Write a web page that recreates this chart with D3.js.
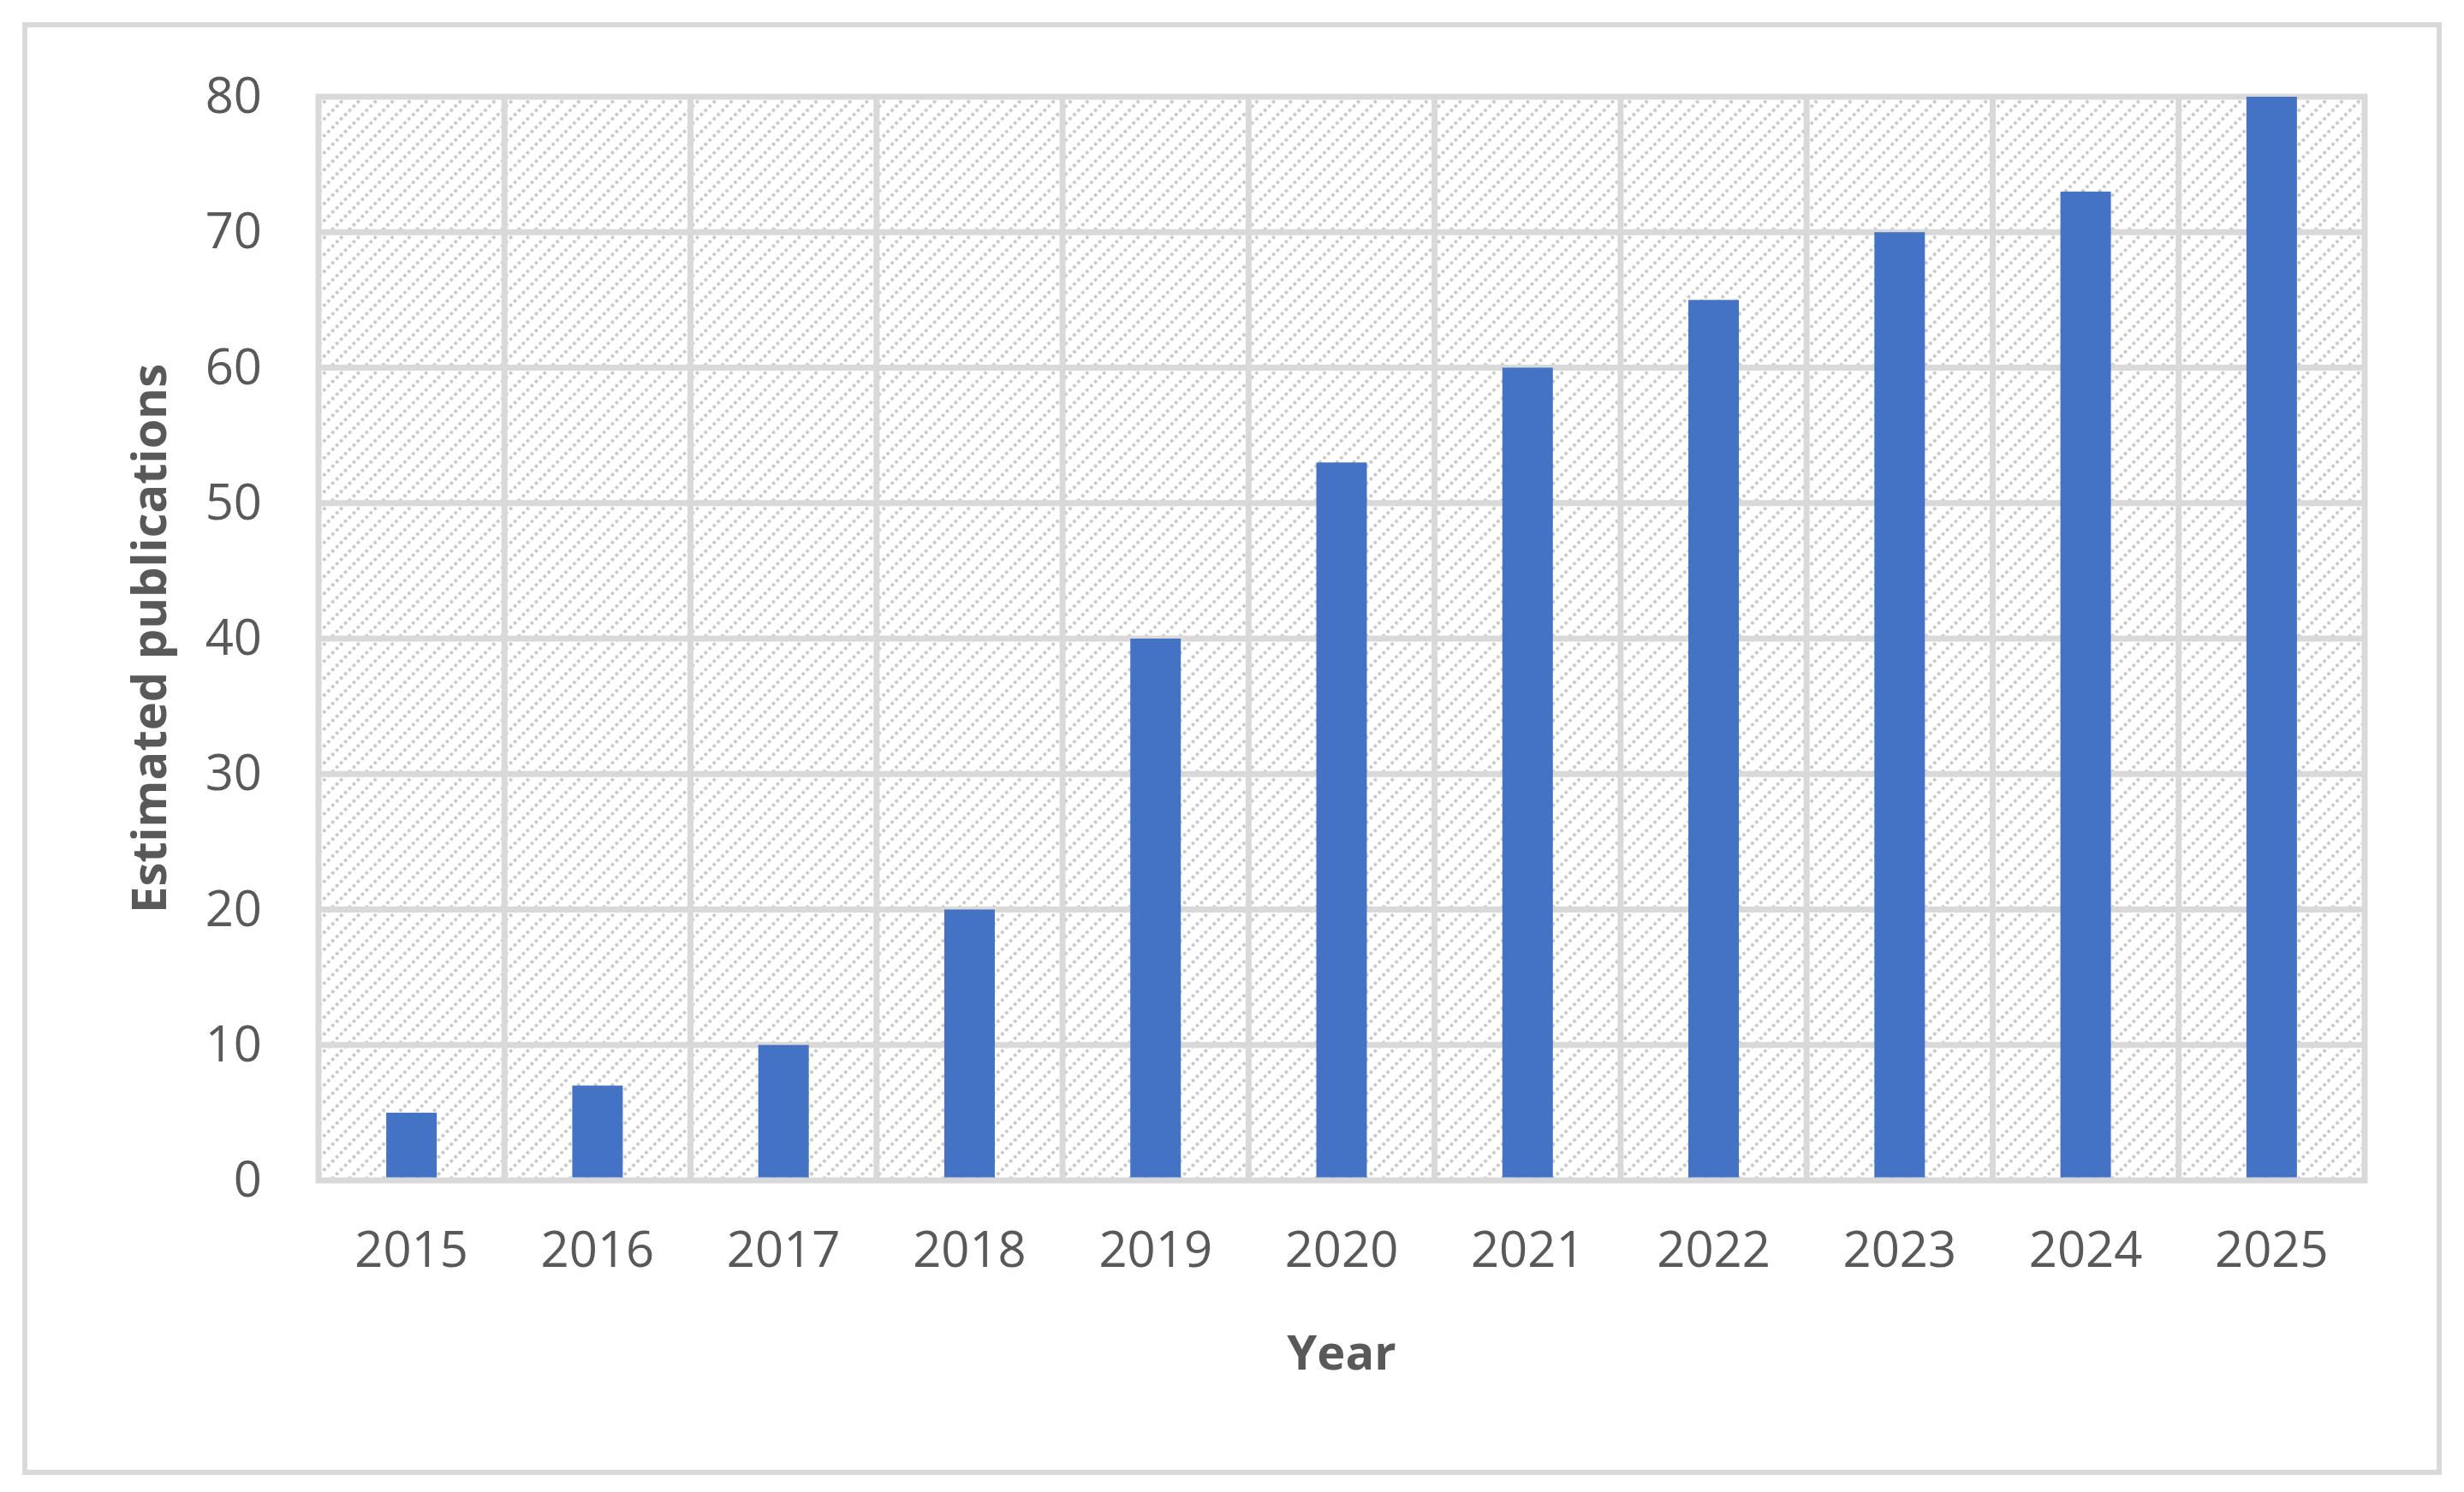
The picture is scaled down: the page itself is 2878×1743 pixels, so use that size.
<!DOCTYPE html>
<html>
<head>
<meta charset="utf-8">
<script src="https://cdn.jsdelivr.net/npm/d3@7"></script>
<style>
  body { margin: 0; background: #fff; }
  text { font-family: "Open Sans", "Noto Sans", sans-serif; }
</style>
</head>
<body>
<svg id="chart" width="2878" height="1743"></svg>
<script>
const years = ["2015", "2016", "2017", "2018", "2019", "2020", "2021", "2022", "2023", "2024", "2025"];
const publications = [5, 7, 10, 20, 40, 53, 60, 65, 70, 73, 80];
const yTicks = [0, 10, 20, 30, 40, 50, 60, 70, 80];

const svg = d3.select("#chart");
const margin = { left: 372, top: 113, right: 2762, bottom: 1379 };

// outer frame
svg.append("rect")
  .attr("x", 29).attr("y", 29).attr("width", 2820).attr("height", 1691)
  .attr("fill", "#fff").attr("stroke", "#d9d9d9").attr("stroke-width", 6);

const defs = svg.append("defs");
const pat = defs.append("pattern")
  .attr("id", "hatch").attr("patternUnits", "userSpaceOnUse")
  .attr("width", 14).attr("height", 14)
  .attr("patternTransform", "rotate(-45)");
pat.append("rect").attr("width", 14).attr("height", 14).attr("fill", "#fff");
pat.append("line").attr("x1", 0).attr("y1", 2).attr("x2", 14).attr("y2", 2)
  .attr("stroke", "#c4c4c4").attr("stroke-width", 3.5).attr("stroke-dasharray", "3.5,3.5");

const x = d3.scaleBand().domain(years).range([margin.left, margin.right]).paddingInner(0).paddingOuter(0);
const y = d3.scaleLinear().domain([0, 80]).range([margin.bottom, margin.top]);

svg.append("rect")
  .attr("x", margin.left).attr("y", margin.top)
  .attr("width", margin.right - margin.left).attr("height", margin.bottom - margin.top)
  .attr("fill", "url(#hatch)");

// grid
svg.append("g").selectAll("line").data(yTicks).join("line")
  .attr("x1", margin.left - 3).attr("x2", margin.right + 3)
  .attr("y1", d => y(d)).attr("y2", d => y(d))
  .attr("stroke", "#d9d9d9").attr("stroke-width", 7);
const vlines = years.map(d => x(d)).concat([margin.right]);
svg.append("g").selectAll("line").data(vlines).join("line")
  .attr("x1", d => d).attr("x2", d => d)
  .attr("y1", margin.top - 3).attr("y2", margin.bottom + 3)
  .attr("stroke", "#d9d9d9").attr("stroke-width", 7);

// bars
const bw = 59;
svg.append("g").selectAll("rect").data(publications).join("rect")
  .attr("x", (d, i) => x(years[i]) + x.bandwidth() / 2 - bw / 2)
  .attr("y", d => y(d))
  .attr("width", bw)
  .attr("height", d => y(0) - y(d) - 3.5)
  .attr("fill", "#4472c4");

// axes
const yAxis = svg.append("g").attr("transform", `translate(${margin.left},0)`)
  .call(d3.axisLeft(y).tickValues(yTicks).tickSize(0).tickPadding(66));
const xAxis = svg.append("g").attr("transform", `translate(0,${margin.bottom})`)
  .call(d3.axisBottom(x).tickSize(0).tickPadding(60));
[yAxis, xAxis].forEach(a => {
  a.select(".domain").remove();
  a.selectAll("text").attr("font-size", 58).attr("fill", "#595959")
    .style("font-family", '"Open Sans", sans-serif');
});

svg.append("text")
  .attr("x", (margin.left + margin.right) / 2).attr("y", 1600)
  .attr("text-anchor", "middle").attr("font-size", 56).attr("font-weight", "bold")
  .attr("fill", "#595959").text("Year");
svg.append("text")
  .attr("transform", `translate(194,${(margin.top + margin.bottom) / 2}) rotate(-90)`)
  .attr("text-anchor", "middle").attr("font-size", 56).attr("font-weight", "bold")
  .attr("fill", "#595959").text("Estimated publications");
</script>
</body>
</html>
